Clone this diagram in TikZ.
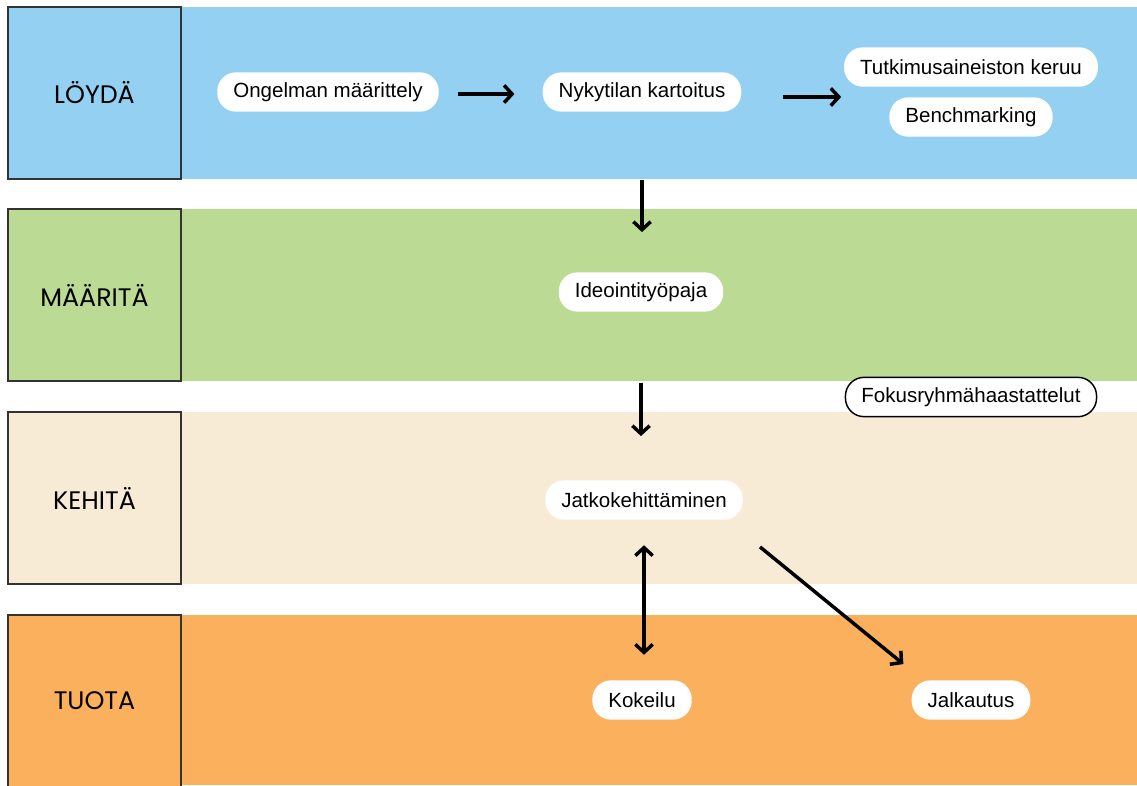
\documentclass[tikz,border=0pt]{standalone}
\usepackage{fontspec}
\setmainfont{Liberation Sans}
\newfontfamily\phasefont{Poppins}
\usetikzlibrary{arrows.meta,calc}

\definecolor{bandblue}{HTML}{93D0F1}
\definecolor{bandgreen}{HTML}{BBDB95}
\definecolor{bandbeige}{HTML}{F7EBD6}
\definecolor{bandorange}{HTML}{FAB05C}

\begin{document}
\begin{tikzpicture}[x=0.75pt,y=-0.75pt]
  \tikzset{>={Straight Barb[length=6pt,width=13pt]}}
  \tikzset{
    pill/.style={fill=white,rounded corners=14pt,minimum height=29.5pt,
      inner xsep=12pt,font=\fontsize{15.4}{18}\selectfont},
    phase/.style={draw=black!80,line width=1.2pt,minimum width=129.75pt,
      minimum height=129pt,font=\phasefont\fontsize{19}{22}\selectfont},
    arr/.style={->,line width=2.6pt}
  }
  \useasboundingbox (0,0) rectangle (1137,785);

  % the four bands, each with its phase box on the left
  \fill[bandblue]   (8,7)   rectangle (1137,179);
  \fill[bandgreen]  (8,209) rectangle (1137,381);
  \fill[bandbeige]  (8,412) rectangle (1137,584);
  \fill[bandorange] (8,615) rectangle (1137,785);

  \node[phase,fill=bandblue]   (loyda)   at (94.5,93)  {LÖYDÄ};
  \node[phase,fill=bandgreen]  (maarita) at (94.5,295) {MÄÄRITÄ};
  \node[phase,fill=bandbeige]  (kehita)  at (94.5,498) {KEHITÄ};
  \node[phase,fill=bandorange] (tuota)   at (94.5,701) {TUOTA};

  % steps
  \node[pill] (ongelma)  at (328,92)  {Ongelman määrittely};
  \node[pill] (nyky)     at (642,92)  {Nykytilan kartoitus};
  \node[pill] (tutkimus) at (971,67)  {Tutkimusaineiston keruu};
  \node[pill] (bench)    at (971,117) {Benchmarking};
  \node[pill] (ideo)     at (641,292) {Ideointityöpaja};
  \node[pill,draw=black,line width=1.1pt] (fokus) at (971,397)
    {Fokusryhmähaastattelut};
  \node[pill] (jatko)    at (644,500) {Jatkokehittäminen};
  \node[pill] (kokeilu)  at (642,700) {Kokeilu};
  \node[pill] (jalka)    at (971,700) {Jalkautus};

  % connectors, kept short of the pills
  \draw[arr,shorten <=14pt,shorten >=21pt] ($(ongelma.east)+(0,2)$) -- ($(nyky.west)+(0,2)$);
  \coordinate (tin) at (tutkimus.west |- 0,97);
  \draw[arr,shorten <=31pt,shorten >=2pt] (nyky.east |- tin) -- (tin);
  \draw[arr,shorten <=51pt,shorten >=30pt] (nyky.south) -- (nyky.south |- ideo.north);
  \draw[arr,shorten <=53pt,shorten >=33pt] (ideo.south) -- (ideo.south |- jatko.north);
  \draw[arr,<->,shorten <=19pt,shorten >=19pt] (jatko.south) -- (jatko.south |- kokeilu.north);
  \coordinate (dstart) at ($(jatko.south east)+(17,27)$);
  \coordinate (dend)   at ($(jalka.north west)+(-8,-16)$);
  \draw[arr] (dstart) -- (dend);
\end{tikzpicture}
\end{document}
